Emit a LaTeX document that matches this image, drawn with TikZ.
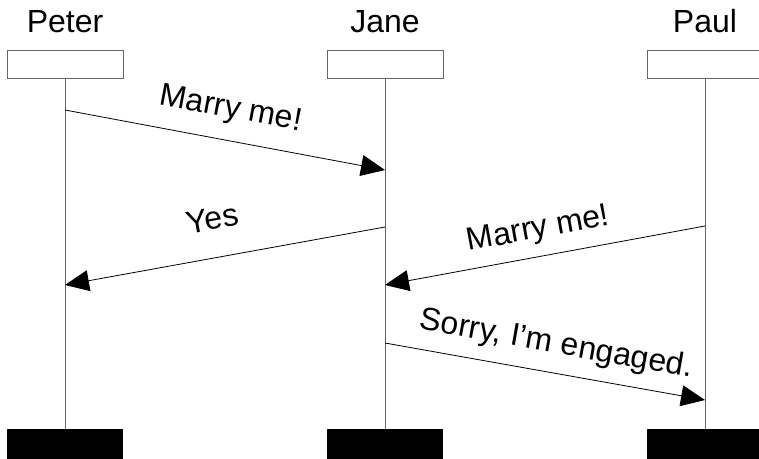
\documentclass[tikz,border=0pt]{standalone}
\usepackage{fontspec}
\setmainfont{Liberation Sans}
\usetikzlibrary{arrows.meta}
\tikzstyle{actorname} =[anchor=base]
\tikzstyle{head} =[draw=black!60, fill=white, line width=0.8pt, minimum width=116pt, minimum height=28pt, inner sep=0pt]
\tikzstyle{foot} =[fill=black, minimum width=116pt, minimum height=36pt, inner sep=0pt, anchor=north]
\tikzstyle{lifeline} =[draw=black!60, line width=0.8pt]
\tikzstyle{msg} =[-{Triangle[length=24pt, width=21pt]}, line width=0.8pt, black]

\begin{document}
\begin{tikzpicture}[x=1pt, y=-1pt, font=\fontsize{32}{36}\selectfont]
\useasboundingbox (0,0) rectangle (759,458);

\node (peterName) [actorname] at (65,32) {Peter};
\node (janeName) [actorname] at (385,32) {Jane};
\node (paulName) [actorname] at (705,32) {Paul};

\node (peterHead) [head] at (65,64) {};
\node (janeHead) [head] at (385,64) {};
\node (paulHead) [head] at (705,64) {};

\node (peterFoot) [foot] at (65,429) {};
\node (janeFoot) [foot] at (385,429) {};
\node (paulFoot) [foot] at (705,429) {};

\draw[lifeline] (peterHead) -- (peterFoot);
\draw[lifeline] (janeHead) -- (janeFoot);
\draw[lifeline] (paulHead) -- (paulFoot);

\coordinate (ask1From) at (65,110);
\coordinate (ask1To) at (385,170);
\coordinate (yesFrom) at (385,227);
\coordinate (yesTo) at (65,285);
\coordinate (ask2From) at (705,226);
\coordinate (ask2To) at (385,285);
\coordinate (sorryFrom) at (385,343);
\coordinate (sorryTo) at (705,400);

\draw[msg] (ask1From) -- node [sloped, above=12.5pt, pos=0.50] {Marry me!} (ask1To);
\draw[msg] (yesFrom) -- node [sloped, above=24pt, pos=0.518] {Yes} (yesTo);
\draw[msg] (ask2From) -- node [sloped, above=8pt, pos=0.506] {Marry me!} (ask2To);
\draw[msg] (sorryFrom) -- node [sloped, above=9.5pt, pos=0.52] {Sorry, I’m engaged.} (sorryTo);

\end{tikzpicture}
\end{document}
